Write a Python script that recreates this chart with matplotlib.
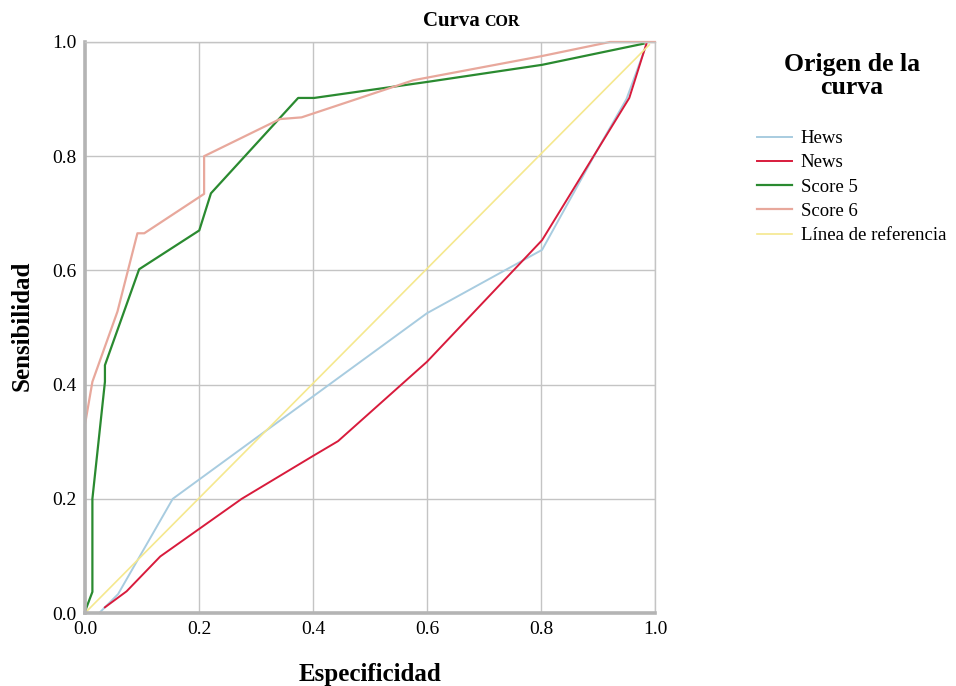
import matplotlib.pyplot as plt

plt.rcParams.update({
    "font.family": ["Liberation Serif", "DejaVu Serif"],
    "font.size": 12,
})

# ROC curves: (1 - specificity, sensitivity)
hews_x = [0.025, 0.058, 0.154, 0.60, 0.802, 0.904, 0.95, 0.985]
hews_y = [0.0, 0.033, 0.20, 0.525, 0.636, 0.82, 0.90, 0.995]

news_x = [0.035, 0.073, 0.132, 0.275, 0.40, 0.444, 0.60, 0.802, 0.955, 0.985]
news_y = [0.01, 0.038, 0.099, 0.20, 0.275, 0.301, 0.44, 0.653, 0.902, 0.997]

s5_x = [0.0, 0.002, 0.013, 0.013, 0.035, 0.035, 0.095, 0.2005, 0.221, 0.374, 0.402, 0.60, 0.802, 0.98]
s5_y = [0.0, 0.008, 0.037, 0.20, 0.405, 0.434, 0.602, 0.670, 0.735, 0.902, 0.902, 0.930, 0.960, 0.997]

s6_x = [0.0, 0.0, 0.013, 0.057, 0.092, 0.104, 0.209, 0.209, 0.342, 0.380, 0.576, 0.80, 0.921, 1.0]
s6_y = [0.0, 0.33, 0.405, 0.528, 0.665, 0.665, 0.734, 0.80, 0.865, 0.868, 0.933, 0.975, 1.0, 1.0]

ref_x = [0.0, 0.99]
ref_y = [0.0, 0.995]

series = [
    ("Hews", hews_x, hews_y, "#a8cce0", 1.4),
    ("News", news_x, news_y, "#d81b3c", 1.4),
    ("Score 5", s5_x, s5_y, "#2a8a30", 1.6),
    ("Score 6", s6_x, s6_y, "#e8a89c", 1.6),
    ("Línea de referencia", ref_x, ref_y, "#f5e88e", 1.2),
]

fig = plt.figure(figsize=(9.56, 6.86), dpi=100)
ax = fig.add_axes([0.0889, 0.1064, 0.5962, 0.8324])

for label, xs, ys, col, lw in series:
    ax.plot(xs, ys, color=col, linewidth=lw, label=label, clip_on=False)

ax.set_xlim(0, 1)
ax.set_ylim(0, 1)
ticks = [0.0, 0.2, 0.4, 0.6, 0.8, 1.0]
ax.set_xticks(ticks, [f"{t:.1f}" for t in ticks])
ax.set_yticks(ticks, [f"{t:.1f}" for t in ticks])
ax.tick_params(length=0, labelsize=14, pad=6)
ax.grid(True, color="#c4c4c4", linewidth=1.0)
ax.set_axisbelow(True)
for side in ("top", "right"):
    ax.spines[side].set_color("#c4c4c4")
    ax.spines[side].set_linewidth(1.0)
for side in ("left", "bottom"):
    ax.spines[side].set_color("#b4b4b4")
    ax.spines[side].set_linewidth(2.6)

ax.set_xlabel("Especificidad", fontsize=18, fontweight="bold", labelpad=18)
fig.text(22 / 956, 1 - 326 / 686, "Sensibilidad", fontsize=18, fontweight="bold",
         rotation=90, ha="center", va="center")

fig.text(0.507, 0.962, "Curva ", fontsize=15, fontweight="bold", ha="right", va="baseline")
fig.text(0.507, 0.962, "COR", fontsize=11.5, fontweight="bold", ha="left", va="baseline")

fig.text(852 / 956, 1 - 76 / 686, "Origen de la\ncurva", fontsize=18.5, fontweight="bold",
         ha="center", va="center", multialignment="center", linespacing=1.0)

leg = fig.legend(
    loc="upper left",
    bbox_to_anchor=(0.774, 0.835),
    frameon=False,
    fontsize=13.5,
    handlelength=1.9,
    handletextpad=0.45,
    labelspacing=0.38,
)

fig.savefig("out.png", dpi=100)
